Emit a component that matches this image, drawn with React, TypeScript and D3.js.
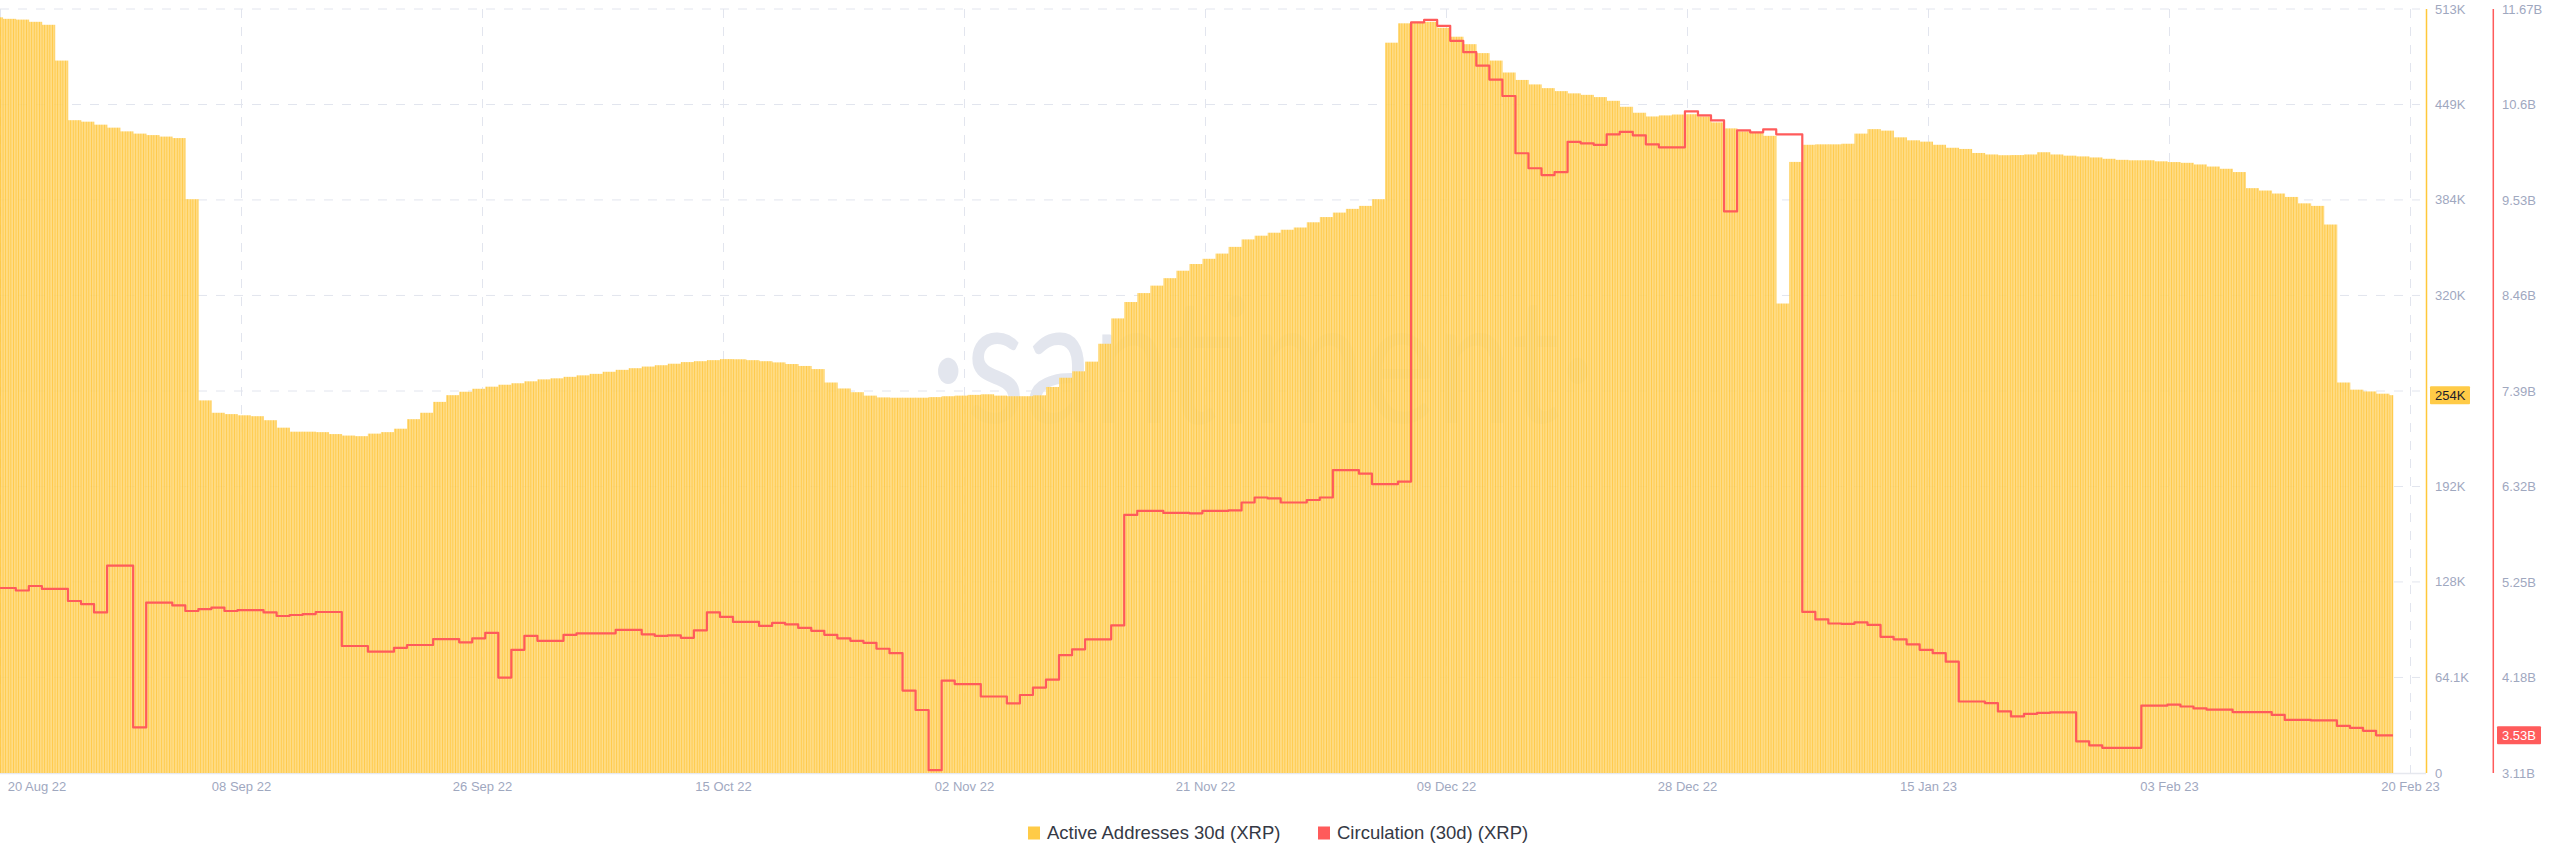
import * as React from 'react';
import * as d3 from 'd3';

const width = 2560;
const height = 867;

// daily values, first entry is 19 Aug 2022 (UTC)
const firstDay = '2022-08-19T00:00:00Z';
const lastUpdate = '2023-02-19T07:10:00Z';

// Active Addresses 30d (XRP), thousands
const activeAddressesK = [
    507, 506, 505.5, 504, 502, 478, 438, 437, 435, 433,
    430.5, 429, 428, 427, 426, 385, 250, 241.7, 240.8, 240,
    239.4, 236.7, 231.7, 229, 229, 228.7, 227.4, 226.4, 226, 227.7,
    228.7, 231, 237.4, 241.7, 249, 253.5, 255.8, 257.8, 259.2, 260.5,
    261.5, 262.8, 264.1, 264.8, 265.8, 266.8, 267.8, 269.2, 270.5, 271.6,
    272.7, 273.6, 274.6, 275.7, 276.3, 277, 277.7, 277.6, 277, 276.3,
    275.5, 274.4, 273.1, 271, 262, 258, 255.5, 253.2, 252, 251.8,
    251.8, 251.8, 252.2, 252.8, 253.2, 253.7, 254.1, 253.2, 252.8, 252.8,
    253.4, 259, 265.2, 269.5, 276, 288, 305, 316, 322, 327,
    332, 337, 341.5, 345, 348.5, 353, 358, 360.5, 362.5, 364.5,
    366, 369.5, 373, 376, 378.5, 380.5, 385, 490, 503, 504,
    504, 500, 494, 489, 483, 478, 470, 465, 462, 459.5,
    457.5, 456, 455, 453.5, 451, 447, 443, 440.5, 441.2, 441.8,
    442, 440.5, 436.5, 432.5, 430.5, 429.5, 427.5, 315, 410, 421.5,
    421.8, 421.8, 422.2, 429, 432, 431, 426.5, 424.5, 423.6, 421.5,
    419.5, 418.7, 416, 415, 414.5, 414.6, 415, 416.5, 415, 414.2,
    413.7, 413, 412.1, 411.4, 411.1, 411.1, 410.4, 409.9, 409.4, 408.3,
    406.9, 405.4, 403.2, 392.4, 390.8, 388.8, 386.5, 382.2, 380.5, 368,
    262, 257.2, 256, 254.5, 253.5,
];

// Circulation (30d) (XRP), billions
const circulationB = [
    5.183, 5.183, 5.155, 5.205, 5.172, 5.172, 5.037, 5.003, 4.909, 5.433,
    5.433, 3.621, 5.020, 5.020, 4.987, 4.925, 4.947, 4.964, 4.925, 4.936,
    4.936, 4.909, 4.869, 4.880, 4.891, 4.914, 4.914, 4.533, 4.533, 4.469,
    4.469, 4.513, 4.544, 4.544, 4.611, 4.611, 4.574, 4.619, 4.681, 4.179,
    4.490, 4.647, 4.591, 4.591, 4.658, 4.675, 4.675, 4.675, 4.713, 4.713,
    4.664, 4.647, 4.653, 4.625, 4.709, 4.909, 4.859, 4.803, 4.803, 4.758,
    4.792, 4.775, 4.736, 4.703, 4.658, 4.619, 4.591, 4.569, 4.502, 4.452,
    4.034, 3.816, 3.142, 4.145, 4.106, 4.106, 3.967, 3.967, 3.889, 3.984,
    4.067, 4.156, 4.430, 4.496, 4.608, 4.608, 4.764, 6.002, 6.047, 6.047,
    6.024, 6.024, 6.019, 6.047, 6.047, 6.052, 6.141, 6.197, 6.186, 6.141,
    6.141, 6.169, 6.197, 6.504, 6.504, 6.464, 6.347, 6.347, 6.375, 11.520,
    11.548, 11.481, 11.313, 11.186, 11.035, 10.879, 10.695, 10.054, 9.886, 9.809,
    9.843, 10.182, 10.165, 10.148, 10.266, 10.294, 10.255, 10.154, 10.120, 10.120,
    10.523, 10.478, 10.422, 9.402, 10.311, 10.288, 10.321, 10.266, 10.266, 4.915,
    4.831, 4.785, 4.780, 4.797, 4.769, 4.636, 4.608, 4.552, 4.490, 4.452,
    4.357, 3.911, 3.911, 3.894, 3.800, 3.744, 3.772, 3.783, 3.789, 3.789,
    3.465, 3.420, 3.392, 3.392, 3.392, 3.866, 3.866, 3.877, 3.855, 3.833,
    3.821, 3.821, 3.793, 3.793, 3.793, 3.761, 3.705, 3.705, 3.699, 3.699,
    3.638, 3.615, 3.583, 3.532, 3.532,
];

const xTickLabels = ['20 Aug 22', '08 Sep 22', '26 Sep 22', '15 Oct 22', '02 Nov 22', '21 Nov 22',
    '09 Dec 22', '28 Dec 22', '15 Jan 23', '03 Feb 23', '20 Feb 23'];
const leftTicks = [0, 64.1, 128.2, 192.2, 256.3, 320.4, 384.5, 448.5, 512.6];
const leftTickLabels = ['0', '64.1K', '128K', '192K', '256K', '320K', '384K', '449K', '513K'];
const rightTicks = [3.11, 4.18, 5.25, 6.32, 7.39, 8.46, 9.53, 10.6, 11.67];

const seriesNames = ['Active Addresses 30d (XRP)', 'Circulation (30d) (XRP)'];
const yellow = '#FFCB47';
const red = '#FF5B5B';
const gridColor = '#e2e5ee';
const labelColor = '#9fa8bf';
const font = '"Liberation Sans", Arial, sans-serif';

const App = () => {
    const plotRight = 2426;
    const top = 9;
    const bottom = 773;

    const x = d3.scaleUtc()
        .domain([new Date('2022-08-19T18:55:00Z'), new Date('2023-02-21T19:55:00Z')])
        .range([0, plotRight]);
    const yL = d3.scaleLinear().domain([0, 512.6]).range([bottom, top]);
    const yR = d3.scaleLinear().domain([3.11, 11.67]).range([bottom, top]);
    const xt = d3.scalePoint<string>().domain(xTickLabels).range([0.5, 2410.5]);

    const start = new Date(firstDay);
    const end = new Date(lastUpdate);
    const dates = activeAddressesK.map((_, i) => d3.utcDay.offset(start, i));

    const bars = activeAddressesK.map((v, i) => {
        const x0 = Math.max(0, x(dates[i]));
        const x1 = i < dates.length - 1 ? x(dates[i + 1]) : x(end);
        return { x: x0, w: Math.max(0, x1 - x0), y: yL(v), v };
    });

    const linePts: [Date, number][] = circulationB.map((v, i) => [dates[i], v]);
    linePts.push([end, circulationB[circulationB.length - 1]]);
    const line = d3.line<[Date, number]>()
        .x(d => x(d[0]))
        .y(d => yR(d[1]))
        .curve(d3.curveStepAfter);

    const fmtR = d3.format('.2~f');
    const lastA = activeAddressesK[activeAddressesK.length - 1];
    const lastC = circulationB[circulationB.length - 1];

    // tick labels hidden behind the current value badges
    const hiddenL = (t: number) => Math.abs(yL(t) - yL(lastA)) < 14;
    const hiddenR = (t: number) => Math.abs(yR(t) - yR(lastC)) < 14;

    const legendY = 833;
    const legendX = [1028, 1318];

    return (
        <>
            <style>{'body{margin:0}'}</style>
            <svg width={width} height={height} style={{ display: 'block', background: '#fff' }}>
                <defs>
                    <pattern id="stripes" patternUnits="userSpaceOnUse" width={2.6} height={10}>
                        <rect width={2.6} height={10} fill="#FFDA7C" />
                        <rect width={0.9} height={10} fill="#FFC63A" />
                    </pattern>
                    <clipPath id="plot">
                        <rect x={0} y={0} width={plotRight} height={bottom} />
                    </clipPath>
                </defs>

                {/* grid */}
                <g stroke={gridColor} strokeWidth={1} strokeDasharray="9 9">
                    {leftTicks.slice(1).map((t, i) => (
                        <line key={'h' + i} x1={0} x2={2420} y1={yL(t)} y2={yL(t)} />
                    ))}
                    {xTickLabels.map((l, i) => (
                        <line key={'v' + i} x1={xt(l)} x2={xt(l)} y1={top} y2={bottom} />
                    ))}
                </g>
                <line x1={0} x2={plotRight} y1={bottom + 0.5} y2={bottom + 0.5} stroke="#e6e8ee" strokeWidth={1.5} />

                {/* watermark */}
                <text x={1263} y={423} textAnchor="middle" fontFamily="Lato, sans-serif" fontSize={175}
                      fill="#e3e6ee" textLength={665} lengthAdjust="spacingAndGlyphs">
                    ·santiment·
                </text>

                {/* active addresses bars */}
                <g clipPath="url(#plot)" opacity={0.92}>
                    {bars.map((b, i) => (
                        <rect key={i} x={b.x} y={b.y} width={b.w + 0.3} height={bottom - b.y} fill="url(#stripes)" />
                    ))}
                </g>

                {/* circulation line */}
                <path d={line(linePts) || ''} fill="none" stroke={red} strokeWidth={2.2}
                      strokeLinejoin="round" clipPath="url(#plot)" />

                {/* axes */}
                <line x1={plotRight + 0.5} x2={plotRight + 0.5} y1={top} y2={bottom} stroke="#FFC83A" strokeWidth={1.5} />
                <line x1={2493.3} x2={2493.3} y1={top} y2={bottom} stroke={red} strokeWidth={1.5} />

                <g fontFamily={font} fontSize={13} fill={labelColor}>
                    {leftTicks.map((t, i) => hiddenL(t) ? null : (
                        <text key={'l' + i} x={2435} y={yL(t)} dy="0.35em">{leftTickLabels[i]}</text>
                    ))}
                    {rightTicks.map((t, i) => hiddenR(t) ? null : (
                        <text key={'r' + i} x={2502} y={yR(t)} dy="0.35em">{fmtR(t)}B</text>
                    ))}
                    {xTickLabels.map((l, i) => (
                        <text key={'x' + i} x={Math.min(2420, Math.max(37, xt(l) as number))} y={786} dy="0.35em"
                              textAnchor="middle">{l}</text>
                    ))}
                </g>

                {/* current value badges */}
                <g fontFamily={font} fontSize={13}>
                    <rect x={2430} y={yL(lastA) - 9} width={40} height={18} fill={yellow} rx={1} />
                    <text x={2435} y={yL(lastA)} dy="0.35em" fill="#1c1d2b">{Math.round(lastA)}K</text>
                    <rect x={2497} y={yR(lastC) - 9} width={44} height={18} fill={red} rx={1} />
                    <text x={2502} y={yR(lastC)} dy="0.35em" fill="#fff">{fmtR(lastC)}B</text>
                </g>

                {/* legend */}
                <g fontFamily={font} fontSize={18.5} fill="#353945">
                    {seriesNames.map((name, i) => (
                        <g key={name}>
                            <rect x={legendX[i]} y={legendY - 6.5} width={12} height={13} fill={i === 0 ? yellow : red} />
                            <text x={legendX[i] + 19} y={legendY} dy="0.35em">{name}</text>
                        </g>
                    ))}
                </g>
            </svg>
        </>
    );
};

export default App;
